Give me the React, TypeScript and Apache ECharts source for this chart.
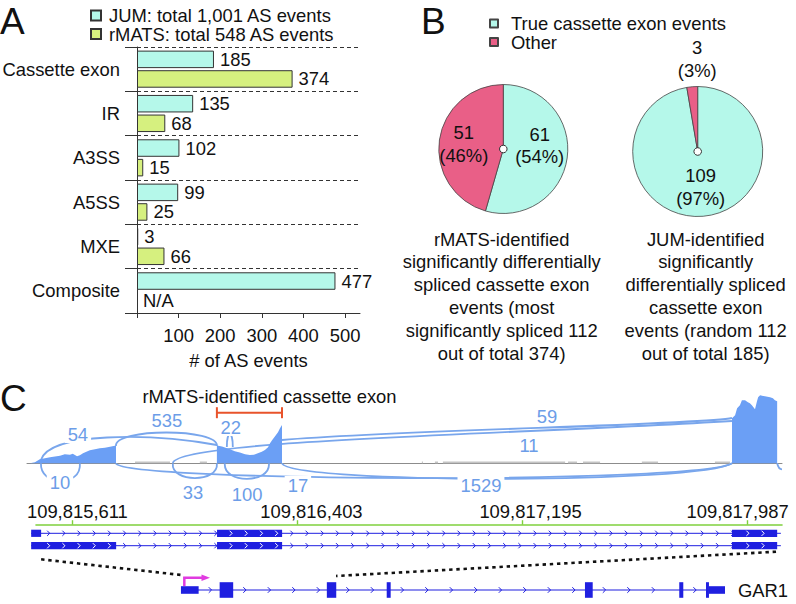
import React, { useEffect, useRef } from 'react';
import * as echarts from 'echarts';

const FONT = 'Liberation Sans, Arial, Helvetica, sans-serif';
const FS = 18.4;
const INK = '#111111';
const CYAN = '#b5f8ea';
const GREEN = '#d6f07f';
const PINK = '#e95f87';
const COV_BLUE = '#6b9ff5';
const ARC_BLUE = '#79a6ec';
const LABEL_BLUE = '#6c9de8';
const GENE_BLUE = '#1f1fe0';
const AXIS_GREEN = '#7fd03c';
const TSS_MAGENTA = '#e03be0';
const BRACKET_RED = '#e8532b';

// ---------- Panel A data ----------
const asCategories = ['Cassette exon', 'IR', 'A3SS', 'A5SS', 'MXE', 'Composite'];
const jumCounts = [185, 135, 102, 99, 3, 477];
const rmatsCounts: (number | null)[] = [374, 68, 15, 25, 66, null];
const countTicks = [0, 100, 200, 300, 400, 500];
const countTickLabels = [100, 200, 300, 400, 500];
const jumName = 'JUM: total 1,001 AS events';
const rmatsName = 'rMATS: total 548 AS events';

// ---------- Panel B data ----------
const pieNames = ['True cassette exon events', 'Other'];
const rmatsPieValues = [61, 51];
const jumPieValues = [109, 3];
const rmatsCaption = [
  'rMATS-identified',
  'significantly differentially',
  'spliced cassette exon',
  'events (most',
  'significantly spliced 112',
  'out of total 374)',
];
const jumCaption = [
  'JUM-identified',
  'significantly',
  'differentially spliced',
  'cassette exon',
  'events (random 112',
  'out of total 185)',
];

// ---------- Panel C data ----------
const coordTicks = [109815611, 109816403, 109817195, 109817987];
const cassetteExon = [109816120, 109816349];
const coverage: [number, number][] = [
  [109815462, 0], [109815462, 0.5], [109815480, 1], [109815497, 4], [109815515, 5], [109815533, 6],
  [109815568, 7.5], [109815585, 9], [109815603, 8.5], [109815613, 9.5], [109815628, 7], [109815638, 8],
  [109815649, 10], [109815673, 13], [109815691, 14], [109815708, 15], [109815726, 15.5], [109815744, 16.5],
  [109815761, 17.5], [109815765, 17.5], [109815765, 0],
  [109816120, 0], [109816120, 17.7], [109816138, 16.7], [109816166, 14], [109816183, 12], [109816201, 10.7],
  [109816219, 9], [109816236, 8.3], [109816250, 8.5], [109816264, 10], [109816278, 11.5], [109816289, 13.3],
  [109816300, 16], [109816307, 20], [109816314, 23], [109816324, 26.7], [109816335, 31], [109816342, 35],
  [109816349, 38.3], [109816349, 0],
  [109817932, 0], [109817932, 45], [109817943, 48], [109817950, 55], [109817960, 58], [109817967, 63],
  [109817978, 63], [109817988, 61], [109817995, 60], [109818002, 58], [109818013, 54], [109818020, 62],
  [109818024, 66], [109818031, 68], [109818038, 67.5], [109818048, 67], [109818066, 66], [109818076, 65],
  [109818083, 63], [109818091, 62], [109818091, 0],
];
const lowCoverage: [number, number][] = [
  [109815832, 109815955], [109816060, 109816085], [109816841, 109816845], [109816887, 109816898],
  [109816915, 109817345], [109817355, 109817387], [109817408, 109817468], [109817615, 109817672],
  [109817872, 109817925],
];
const junctionCounts: (number | null)[] = [54, 535, 22, 59, 11, 10, 33, 100, 17, 1529, null];
const junctionCurves: number[][] = [
  [109815501, 3.3, 109815533, 31.3, 109815884, 30.3, 109816120, 18.3],
  [109815765, 17.3, 109815758, 35.3, 109816127, 35.3, 109816120, 17.3],
  [109816155, 16.3, 109816155, 33, 109816176, 33, 109816176, 16.3],
  [109816349, 23.3, 109816764, 33.3, 109817820, 38.3, 109817932, 45.3],
  [109815965, 0.3, 109815983, 23.3, 109817116, 28.3, 109817932, 42.3],
  [109815501, 0, 109815497, -23.7, 109815645, -23.7, 109815638, 0],
  [109815965, 0, 109815958, -19.7, 109816127, -19.7, 109816120, 0],
  [109816148, 0, 109816141, -20.7, 109816310, -20.7, 109816303, 0],
  [109815765, 0, 109815796, -18.7, 109817820, -20.7, 109817932, 0],
  [109816349, 0, 109816377, -20.7, 109817820, -20.7, 109817932, 0],
  [109818091, 0, 109818094, -4, 109818101, -6, 109818108, -6],
];
const junctionLabelPos: number[][] = [
  [109815631, 29.3], [109815944, 43.3], [109816169, 36.3], [109817281, 46.6], [109817218, 18.3],
  [109815568, -18.7], [109816036, -28.7], [109816226, -30.7], [109816405, -21.7], [109817049, -21.7], [0, 0],
];
const junctionLabelBoxed = [true, false, true, false, false, true, false, false, true, true, false];

const transcriptSpan = [109815466, 109818104];
const transcriptExons: number[][][] = [
  [[109815466, 109815501], [109816120, 109816349], [109817932, 109818091]],
  [[109815466, 109815765], [109816120, 109816349], [109817932, 109818091]],
];
const garSpan = [109815466, 109824662];
const garExons: [number, number, string][] = [
  [109815466, 109815765, 'utr'],
  [109816120, 109816349, 'cds'],
  [109817932, 109818091, 'cds'],
  [109818944, 109819011, 'cds'],
  [109822295, 109822426, 'cds'],
  [109823889, 109823957, 'cds'],
  [109824341, 109824391, 'cds'],
  [109824391, 109824662, 'utr'],
];
const garTss = [109815523, 109815957];
const zoomRegion = [109815501, 109818087];

// ---------- layout ----------
const A_GRID = { left: 137, top: 47, width: 223, height: 266 };
const PIE_R = 64.5;
const PIE1_C = [503.3, 149];
const PIE2_C = [697.7, 151.5];
const SASHIMI_GRID = { left: 27, top: 383.3, width: 755, height: 120 };
const SASHIMI_RANGE = [109815452, 109818108];
const TRACK_GRID = { left: 36, top: 524.7, width: 746, height: 79.3 };
const TRACK_RANGE = [109815483, 109818108];
const OVERVIEW_GRID = { left: 170, top: 524.7, width: 566, height: 79.3 };
const OVERVIEW_RANGE = [109815281, 109824848];
const TRACK_ROWS = [8.6, 21];
const ROW_OV = 65.3;
const BRACKET_Y = 50.6;
const COORD_LABEL_SHIFT = [5, 14, 8, -10];

const chevron = (cx: number, cy: number, color: string, half: number) => ({
  type: 'polyline',
  shape: { points: [[cx - half * 0.5, cy - half], [cx + half * 0.5, cy], [cx - half * 0.5, cy + half]] },
  style: { stroke: color, fill: 'none', lineWidth: 1 },
});

const txt = (text: string, x: number, y: number, size: number, align: string, extra: any = {}) => ({
  type: 'text',
  style: {
    text, x, y, fill: INK, fontSize: size, fontFamily: FONT,
    textAlign: align, align, textVerticalAlign: 'middle', verticalAlign: 'middle', ...extra,
  },
});

const coordRich: any = {};
COORD_LABEL_SHIFT.forEach((s, i) => {
  coordRich['s' + i] = {
    fontSize: FS, fontFamily: FONT, color: INK,
    padding: s >= 0 ? [0, 0, 0, 2 * s] : [0, -2 * s, 0, 0],
  };
});

function buildOption(): any {
  const hiddenAxis = (extra: any) => ({ type: 'value', show: false, ...extra });
  const labelText = { fontSize: FS, color: INK, fontFamily: FONT };
  return {
    animation: false,
    textStyle: { fontFamily: FONT },
    legend: [
      {
        data: [jumName, rmatsName], left: 90, top: 6.5, orient: 'vertical', icon: 'rect',
        itemWidth: 10, itemHeight: 10, itemGap: 0.5, padding: 0, selectedMode: false,
        textStyle: { ...labelText, lineHeight: 17.8, padding: [0, 0, 0, 3] },
      },
      {
        data: pieNames, left: 489, top: 14.5, orient: 'vertical', icon: 'rect',
        itemWidth: 8, itemHeight: 8, itemGap: 0.5, padding: 0, selectedMode: false,
        textStyle: { ...labelText, lineHeight: 17.8, padding: [0, 0, 0, 8] },
      },
    ],
    grid: [
      { ...A_GRID, containLabel: false, outerBoundsMode: 'none' },
      { ...SASHIMI_GRID, containLabel: false, outerBoundsMode: 'none' },
      { ...TRACK_GRID, containLabel: false, outerBoundsMode: 'none' },
      { ...OVERVIEW_GRID, containLabel: false, outerBoundsMode: 'none' },
    ],
    xAxis: [
      {
        gridIndex: 0, type: 'value', min: 0, max: 536, position: 'bottom',
        name: '# of AS events', nameLocation: 'middle', nameGap: 38,
        nameTextStyle: labelText,
        axisLine: { show: true, lineStyle: { color: '#333', width: 1 } },
        axisTick: { show: true, length: 5, customValues: countTicks, lineStyle: { color: '#333' } },
        axisLabel: { show: true, customValues: countTickLabels, margin: 13.6, ...labelText },
        splitLine: { show: false },
      },
      {
        gridIndex: 1, type: 'value', min: SASHIMI_RANGE[0], max: SASHIMI_RANGE[1],
        axisLine: { show: true, onZero: true, lineStyle: { color: '#8c8c8c', width: 1 } },
        axisTick: { show: false }, axisLabel: { show: false }, splitLine: { show: false },
      },
      {
        gridIndex: 2, type: 'value', min: TRACK_RANGE[0], max: TRACK_RANGE[1], position: 'top',
        axisLine: { show: true, onZero: false, lineStyle: { color: AXIS_GREEN, width: 1.6 } },
        axisTick: { show: true, length: 4.5, customValues: coordTicks, lineStyle: { color: AXIS_GREEN, width: 1.4 } },
        axisLabel: {
          show: true, customValues: coordTicks, margin: 4, ...labelText, rich: coordRich,
          formatter: (v: number) => {
            const i = coordTicks.indexOf(Number(v));
            return `{s${i < 0 ? 0 : i}|${Number(v).toLocaleString('en-US')}}`;
          },
        },
        splitLine: { show: false },
      },
      hiddenAxis({ gridIndex: 3, min: OVERVIEW_RANGE[0], max: OVERVIEW_RANGE[1] }),
    ],
    yAxis: [
      {
        gridIndex: 0, type: 'category', data: asCategories, inverse: true,
        axisLine: { show: true, onZero: true, lineStyle: { color: '#333', width: 1 } },
        axisTick: { show: true, length: 12, interval: 0, lineStyle: { color: '#333' } },
        axisLabel: { margin: 17, interval: 0, ...labelText },
        splitLine: { show: true, interval: 0, lineStyle: { color: '#333', type: [4, 3], width: 1 } },
      },
      hiddenAxis({ gridIndex: 1, min: -40, max: 80 }),
      hiddenAxis({ gridIndex: 2, min: 0, max: TRACK_GRID.height, inverse: true }),
      hiddenAxis({ gridIndex: 3, min: 0, max: OVERVIEW_GRID.height, inverse: true }),
    ],
    series: [
      {
        type: 'bar', name: jumName, xAxisIndex: 0, yAxisIndex: 0, data: jumCounts,
        barWidth: 17.5, barGap: '12%',
        itemStyle: { color: CYAN, borderColor: '#333', borderWidth: 1 },
        label: { show: true, position: 'right', distance: 6, ...labelText },
      },
      {
        type: 'bar', name: rmatsName, xAxisIndex: 0, yAxisIndex: 0,
        data: rmatsCounts.map((v) =>
          v === null ? { value: 0, label: { formatter: 'N/A' }, itemStyle: { borderWidth: 0 } } : v),
        barWidth: 17.5, barGap: '12%',
        itemStyle: { color: GREEN, borderColor: '#333', borderWidth: 1 },
        label: { show: true, position: 'right', distance: 6, ...labelText },
      },
      {
        type: 'pie', center: PIE1_C, radius: PIE_R, startAngle: 90, clockwise: true, percentPrecision: 0,
        itemStyle: { borderColor: '#444', borderWidth: 0.8 },
        label: { show: true, position: 'inside', formatter: '{c}\n({d}%)', lineHeight: 22.7, ...labelText },
        labelLine: { show: false },
        data: [
          { name: pieNames[0], value: rmatsPieValues[0], itemStyle: { color: CYAN }, label: { offset: [1.5, -8.3] } },
          { name: pieNames[1], value: rmatsPieValues[1], itemStyle: { color: PINK }, label: { offset: [-4.6, 0] } },
        ],
      },
      {
        type: 'pie', center: PIE2_C, radius: PIE_R + 0.5, startAngle: 90, clockwise: true, percentPrecision: 0,
        itemStyle: { borderColor: '#444', borderWidth: 0.8 },
        label: { show: true, position: 'inside', formatter: '{c}\n({d}%)', lineHeight: 22.7, ...labelText },
        labelLine: { show: false },
        data: [
          { name: pieNames[0], value: jumPieValues[0], itemStyle: { color: CYAN } },
          { name: pieNames[1], value: jumPieValues[1], itemStyle: { color: PINK }, label: { offset: [2.5, -57.4] } },
        ],
      },
      {
        type: 'custom', xAxisIndex: 1, yAxisIndex: 1, z: 2, silent: true,
        data: junctionCurves.map((c) => [c[0], c[1]]),
        renderItem: (params: any, api: any) => {
          const c = junctionCurves[params.dataIndex];
          const p0 = api.coord([c[0], c[1]]);
          const p1 = api.coord([c[2], c[3]]);
          const p2 = api.coord([c[4], c[5]]);
          const p3 = api.coord([c[6], c[7]]);
          return {
            type: 'bezierCurve',
            shape: { x1: p0[0], y1: p0[1], cpx1: p1[0], cpy1: p1[1], cpx2: p2[0], cpy2: p2[1], x2: p3[0], y2: p3[1] },
            style: { stroke: ARC_BLUE, fill: 'none', lineWidth: 1.8 },
          };
        },
      },
      {
        type: 'line', xAxisIndex: 1, yAxisIndex: 1, z: 3, data: coverage, symbol: 'none', silent: true,
        lineStyle: { width: 0 }, areaStyle: { color: COV_BLUE, opacity: 1 },
      },
      {
        type: 'custom', xAxisIndex: 1, yAxisIndex: 1, z: 3, silent: true,
        data: lowCoverage.map((s) => [s[0], 0]),
        renderItem: (params: any, api: any) => {
          const s = lowCoverage[params.dataIndex];
          const a = api.coord([s[0], 1.8]);
          const b = api.coord([s[1], 0]);
          return { type: 'rect', shape: { x: a[0], y: a[1], width: Math.max(b[0] - a[0], 1), height: b[1] - a[1] }, style: { fill: '#c4c4c4' } };
        },
      },
      {
        type: 'custom', xAxisIndex: 1, yAxisIndex: 1, z: 5, silent: true,
        data: junctionLabelPos.map((p) => [p[0], p[1]]),
        renderItem: (params: any, api: any) => {
          const i = params.dataIndex;
          const count = junctionCounts[i];
          if (count === null) return null;
          const p = api.coord(junctionLabelPos[i]);
          const boxed = junctionLabelBoxed[i];
          return {
            type: 'text',
            style: {
              text: String(count), x: p[0], y: p[1], fill: LABEL_BLUE, fontSize: FS, fontFamily: FONT,
              textAlign: 'center', align: 'center', textVerticalAlign: 'middle', verticalAlign: 'middle',
              backgroundColor: boxed ? '#ffffff' : 'transparent', textBackgroundColor: boxed ? '#ffffff' : 'transparent',
              padding: [0, 3], textPadding: [0, 3],
            },
          };
        },
      },
      {
        type: 'custom', xAxisIndex: 1, yAxisIndex: 1, z: 5, silent: true,
        data: [[cassetteExon[0], BRACKET_Y]],
        renderItem: (params: any, api: any) => {
          const a = api.coord([cassetteExon[0], BRACKET_Y]);
          const b = api.coord([cassetteExon[1], BRACKET_Y]);
          const st = { stroke: BRACKET_RED, lineWidth: 2 };
          return {
            type: 'group',
            children: [
              { type: 'line', shape: { x1: a[0], y1: a[1], x2: b[0], y2: b[1] }, style: st },
              { type: 'line', shape: { x1: a[0], y1: a[1] - 5.5, x2: a[0], y2: a[1] + 5.5 }, style: st },
              { type: 'line', shape: { x1: b[0], y1: b[1] - 5.5, x2: b[0], y2: b[1] + 5.5 }, style: st },
            ],
          };
        },
      },
      {
        type: 'custom', xAxisIndex: 2, yAxisIndex: 2, z: 3, silent: true,
        data: transcriptExons.map((_, i) => [transcriptSpan[0], TRACK_ROWS[i]]),
        renderItem: (params: any, api: any) => {
          const i = params.dataIndex;
          const row = TRACK_ROWS[i];
          const px = (g: number) => api.coord([g, row])[0];
          const y = api.coord([transcriptSpan[0], row])[1];
          const xs = px(transcriptSpan[0]);
          const xe = px(transcriptSpan[1]);
          const ex = transcriptExons[i].map(([s, e]) => [px(s), px(e)]);
          const children: any[] = [
            { type: 'line', shape: { x1: xs, y1: y, x2: xe, y2: y }, style: { stroke: GENE_BLUE, lineWidth: 1 } },
          ];
          ex.forEach(([a, b]) =>
            children.push({ type: 'rect', shape: { x: a, y: y - 3.6, width: b - a, height: 7.2 }, style: { fill: GENE_BLUE } }));
          for (let cx = xs + 17.3; cx < xe - 3; cx += 15.2) {
            const inside = ex.some(([a, b]) => cx > a + 1 && cx < b - 1);
            children.push(chevron(cx, y, inside ? '#ffffff' : GENE_BLUE, 2.6));
          }
          return { type: 'group', children };
        },
      },
      {
        type: 'custom', xAxisIndex: 3, yAxisIndex: 3, z: 3, silent: true,
        data: [[garSpan[0], ROW_OV]],
        renderItem: (params: any, api: any) => {
          const px = (g: number) => api.coord([g, ROW_OV])[0];
          const y = api.coord([garSpan[0], ROW_OV])[1];
          const children: any[] = [
            { type: 'line', shape: { x1: px(garSpan[0]), y1: y, x2: px(garSpan[1]), y2: y }, style: { stroke: GENE_BLUE, lineWidth: 1.2 } },
          ];
          for (let i = 0; i < garExons.length - 1; i++) {
            const a = px(garExons[i][1]);
            const b = px(garExons[i + 1][0]);
            for (let cx = a + 11.5; cx < b - 4; cx += 24.5) children.push(chevron(cx, y, GENE_BLUE, 2.8));
          }
          garExons.forEach(([s, e, kind]) => {
            const h = kind === 'cds' ? 15.6 : 7.6;
            const a = px(s);
            const b = px(e);
            children.push({ type: 'rect', shape: { x: a, y: y - h / 2, width: Math.max(b - a, 2), height: h }, style: { fill: GENE_BLUE } });
          });
          const tx = px(garTss[0]);
          const tip = px(garTss[1]);
          children.push({
            type: 'polyline',
            shape: { points: [[tx, y - 4], [tx, y - 12.3], [tip - 8, y - 12.3]] },
            style: { stroke: TSS_MAGENTA, lineWidth: 2.5, fill: 'none' },
          });
          children.push({
            type: 'polygon',
            shape: { points: [[tip - 8.5, y - 15.6], [tip, y - 12.3], [tip - 8.5, y - 9]] },
            style: { fill: TSS_MAGENTA },
          });
          children.push({
            type: 'text',
            style: {
              text: 'GAR1', x: px(garSpan[1]) + 13, y, fill: INK, fontSize: FS, fontFamily: FONT,
              textAlign: 'left', align: 'left', textVerticalAlign: 'middle', verticalAlign: 'middle',
            },
          });
          return { type: 'group', children };
        },
      },
    ],
    graphic: {
      elements: [
        { id: 'lblA', ...txt('A', 0, 21.7, 37, 'left') },
        { id: 'lblB', ...txt('B', 421, 21.7, 37, 'left') },
        { id: 'lblC', ...txt('C', 0, 398, 37, 'left') },
        { id: 'titleC', ...txt('rMATS-identified cassette exon', 269.5, 396.5, FS, 'center') },
        {
          id: 'cap1', type: 'text',
          style: {
            text: rmatsCaption.join('\n'), x: 501.7, y: 227.6, fill: INK, fontSize: FS, lineHeight: 22.8, fontFamily: FONT,
            textAlign: 'center', align: 'center', textVerticalAlign: 'top', verticalAlign: 'top',
          },
        },
        {
          id: 'cap2', type: 'text',
          style: {
            text: jumCaption.join('\n'), x: 705.7, y: 227.6, fill: INK, fontSize: FS, lineHeight: 22.8, fontFamily: FONT,
            textAlign: 'center', align: 'center', textVerticalAlign: 'top', verticalAlign: 'top',
          },
        },
        { id: 'dot1', type: 'circle', z: 100, shape: { cx: PIE1_C[0], cy: PIE1_C[1], r: 3.8 }, style: { fill: '#fff', stroke: '#333', lineWidth: 1 } },
        { id: 'dot2', type: 'circle', z: 100, shape: { cx: PIE2_C[0], cy: PIE2_C[1], r: 3.8 }, style: { fill: '#fff', stroke: '#333', lineWidth: 1 } },
      ],
    },
  };
}

export default function App() {
  const ref = useRef<HTMLDivElement>(null);
  useEffect(() => {
    document.body.style.margin = '0';
    const el = ref.current;
    if (!el) return;
    const chart = echarts.init(el, null, { renderer: 'svg' });
    chart.setOption(buildOption());
    const l0 = chart.convertToPixel({ gridIndex: 2 } as any, [zoomRegion[0], 34.6]) as number[];
    const l1 = chart.convertToPixel({ gridIndex: 3 } as any, [zoomRegion[0], 50.5]) as number[];
    const r0 = chart.convertToPixel({ gridIndex: 2 } as any, [zoomRegion[1], 27]) as number[];
    const r1 = chart.convertToPixel({ gridIndex: 3 } as any, [zoomRegion[1], 51.3]) as number[];
    const dotted = { stroke: '#111', lineWidth: 2.6, lineDash: [3.4, 3.8] };
    if (l0 && l1 && r0 && r1) {
      chart.setOption({
        graphic: {
          elements: [
            { id: 'zoomL', type: 'line', shape: { x1: l0[0], y1: l0[1], x2: l1[0], y2: l1[1] }, style: dotted },
            { id: 'zoomR', type: 'line', shape: { x1: r0[0], y1: r0[1], x2: r1[0], y2: r1[1] }, style: dotted },
          ],
        },
      });
    }
    return () => chart.dispose();
  }, []);
  return <div ref={ref} style={{ width: 796, height: 604 }} />;
}
